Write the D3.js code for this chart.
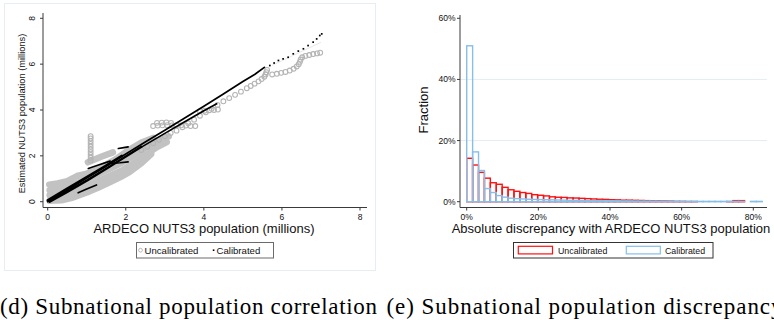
<!DOCTYPE html>
<html>
<head>
<meta charset="utf-8">
<script src="https://cdn.jsdelivr.net/npm/d3@7"></script>
<style>
  html, body { margin: 0; padding: 0; background: #fff; }
  svg { display: block; }
  text { font-family: "Liberation Sans", Arial, sans-serif; fill: #111; }
  .caption { font-family: "Liberation Serif", "DejaVu Serif", serif; fill: #000; }
</style>
</head>
<body>
<svg id="fig" width="774" height="320"></svg>
<script>
// ---------- (d) correlation scatter: values in millions ----------
const corrTicks = [0, 2, 4, 6, 8];

// dense runs of uncalibrated estimates (region trajectories over the years)
const uncalibratedTracks = [
  [[0.05,0.04],[0.35,0.06],[0.65,0.18],[1.0,0.4],[1.3,0.62],[1.6,0.86],[1.85,1.06],[2.1,1.3],[2.4,1.68],[2.65,2.08]],
  [[0.05,0.28],[0.35,0.3],[0.7,0.48],[1.0,0.68],[1.3,0.9],[1.6,1.13],[1.9,1.36],[2.2,1.68],[2.5,2.03],[2.8,2.38],[3.05,2.6]],
  [[0.05,0.5],[0.35,0.58],[0.7,0.78],[1.0,0.98],[1.3,1.2],[1.6,1.45],[1.9,1.7],[2.2,2.0],[2.5,2.35],[2.8,2.65],[3.1,2.85]],
  [[0.04,0.74],[0.25,0.8],[0.5,0.9],[0.75,1.12],[0.95,1.2],[1.2,1.36],[1.5,1.62],[1.8,1.92],[2.1,2.28],[2.4,2.58],[2.7,2.78]],
  [[1.03,1.72],[1.35,1.95],[1.67,2.15]]
];
// individual uncalibrated estimates
const uncalibratedPoints = [
  [1.1,1.8],[1.1,1.92],[1.1,2.04],[1.1,2.16],[1.1,2.28],[1.1,2.4],[1.1,2.52],[1.1,2.64],[1.1,2.76],[1.1,2.86],
  [2.7,3.3],[2.82,3.32],[2.94,3.33],[3.06,3.34],[3.18,3.33],[3.3,3.34],[3.42,3.33],[3.54,3.32],[3.66,3.3],[3.78,3.3],
  [2.8,3.44],[2.92,3.45],[3.04,3.46],[3.16,3.44],
  [3.9,3.95],[4.02,3.97],[4.14,3.99],[4.26,4.0],[4.36,4.02],
  [2.4,2.25],[2.55,2.4],[2.7,2.55],[2.85,2.7],[3.0,2.85],[3.15,3.0],[3.3,3.1],[3.45,3.25],[3.6,3.42],[3.75,3.58],
  [3.9,3.75],[4.05,3.9],[4.2,4.05],[4.35,4.22],[4.5,4.38],[4.65,4.52],[4.8,4.66],[4.95,4.8],[5.1,4.95],[5.2,5.05],
  [5.3,5.15],[5.4,5.25],[5.48,5.35],[5.55,5.45],[5.58,5.55],[5.6,5.65],[5.62,5.75],
  [5.75,5.55],[5.87,5.58],[5.98,5.62],[6.09,5.66],[6.2,5.72],[6.3,5.8],[6.38,5.9],[6.43,6.0],[6.46,6.1],[6.48,6.2],
  [6.52,6.3],[6.6,6.36],[6.7,6.4],[6.8,6.44],[6.9,6.47],[6.98,6.5]
];
const faintTrack = [[5.75,5.95],[7.0,6.95]];

// dense runs of calibrated estimates; the first three hug the diagonal
const calibratedTracks = [
  [[0,0],[0.5,0.5],[1.0,1.03],[1.5,1.55],[2.0,2.08],[2.5,2.6],[3.0,3.12],[3.5,3.64],[4.0,4.16],[4.5,4.7],[5.0,5.24],[5.3,5.55],[5.55,5.86]],
  [[0.05,0.0],[0.5,0.43],[1.0,0.92],[1.5,1.44],[2.0,1.97],[2.4,2.4]],
  [[0,0.06],[0.5,0.57],[1.0,1.08],[1.4,1.48],[1.9,2.0]],
  [[2.4,2.38],[3.0,2.98],[3.5,3.48],[4.0,3.97],[4.33,4.27]],
  [[1.04,1.45],[1.3,1.6],[1.6,1.77]],
  [[1.64,1.67],[1.85,1.7],[2.06,1.74]],
  [[0.78,0.39],[1.0,0.55],[1.25,0.73]],
  [[1.81,2.32],[1.95,2.36],[2.06,2.39]]
];
const calibratedPoints = [
  [5.69,5.94],[5.8,6.05],[5.91,6.16],[6.03,6.23],[6.16,6.3],[6.29,6.45],[6.42,6.57],
  [6.55,6.67],[6.67,6.81],[6.8,6.96],[6.89,7.1],[6.97,7.25],[7.02,7.32]
];

// ---------- (e) discrepancy histogram ----------
const binWidth = 0.0165;
const uncalibratedShare = [
  14.2,12.0,9.6,7.7,6.2,5.7,4.7,3.9,3.4,3.0,
  2.7,2.3,2.1,1.9,1.6,1.45,1.4,1.25,1.2,1.1,
  1.0,0.9,0.8,0.75,0.65,0.6,0.5,0.5,0.45,0.4,
  0.35,0.3,0.3,0.25,0.2,0.1,0.1,0.05,0.05,0,
  0,0,0,0,0.05,0.35,0.35,0,0,0
];
const calibratedShare = [
  51.0,16.3,10.2,4.3,3.0,2.0,1.5,1.15,1.0,0.9,
  0.8,0.75,0.7,0.65,0.6,0.55,0.5,0.45,0.45,0.4,
  0.4,0.35,0.35,0.3,0.3,0.28,0.25,0.25,0.22,0.2,
  0.2,0.18,0.18,0.15,0.15,0.15,0.12,0.12,0.12,0.1,
  0.1,0.1,0.1,0.1,0.1,0.1,0.1,0,0.1,0.1
];
const shareTicks = [0, 0.2, 0.4, 0.6];
const discTicks = [0, 0.2, 0.4, 0.6, 0.8];

const seriesNames = ["Uncalibrated", "Calibrated"];
const captions = ["(d) Subnational population correlation", "(e) Subnational population discrepancy"];

const svg = d3.select("#fig");
const axisColor = "#3a3a3a";
const pct = d3.format(".0%");

// ======================= panel (d) =======================
svg.append("rect").attr("x", 4.5).attr("y", 3.5).attr("width", 371).attr("height", 267)
  .attr("fill", "none").attr("stroke", "#e6eef2").attr("stroke-width", 1);

const xs = d3.scaleLinear().domain([0, 8]).range([47.7, 360]);
const ys = d3.scaleLinear().domain([0, 8]).range([201.7, 18.3]);
const L = svg.append("g");

const line = d3.line().x(d => xs(d[0])).y(d => ys(d[1]));

L.append("path").datum(faintTrack).attr("d", line)
  .attr("fill", "none").attr("stroke", "#e2e2e2").attr("stroke-width", 0.8);

L.selectAll("path.ut").data(uncalibratedTracks).join("path").attr("class", "ut")
  .attr("d", line).attr("fill", "none").attr("stroke", "#c2c2c2")
  .attr("stroke-width", 6.5).attr("stroke-linecap", "round").attr("stroke-linejoin", "round");

L.selectAll("circle.up").data(uncalibratedPoints).join("circle").attr("class", "up")
  .attr("cx", d => xs(d[0])).attr("cy", d => ys(d[1])).attr("r", 2.4)
  .attr("fill", "none").attr("stroke", "#b4b4b4").attr("stroke-width", 1.1);

L.selectAll("path.ct").data(calibratedTracks).join("path").attr("class", "ct")
  .attr("d", line).attr("fill", "none").attr("stroke", "#000")
  .attr("stroke-width", (d, i) => (i === 1 || i === 2) ? 2.4 : 1.7)
  .attr("stroke-linecap", "round").attr("stroke-linejoin", "round");

L.selectAll("rect.cp").data(calibratedPoints).join("rect").attr("class", "cp")
  .attr("x", d => xs(d[0]) - 0.85).attr("y", d => ys(d[1]) - 0.85)
  .attr("width", 1.7).attr("height", 1.7).attr("fill", "#000");

// axes
L.append("line").attr("x1", 43).attr("x2", 43).attr("y1", 13).attr("y2", 207.5)
  .attr("stroke", axisColor).attr("stroke-width", 1);
L.append("line").attr("x1", 43).attr("x2", 367).attr("y1", 207.5).attr("y2", 207.5)
  .attr("stroke", axisColor).attr("stroke-width", 1);

L.selectAll("line.yt").data(corrTicks).join("line").attr("class", "yt")
  .attr("x1", 40).attr("x2", 43).attr("y1", d => ys(d)).attr("y2", d => ys(d))
  .attr("stroke", axisColor);
L.selectAll("text.yl").data(corrTicks).join("text").attr("class", "yl")
  .attr("transform", d => `translate(35,${ys(d)}) rotate(-90)`)
  .attr("text-anchor", "middle").attr("font-size", 8.5).text(d => d);

L.selectAll("line.xt").data(corrTicks).join("line").attr("class", "xt")
  .attr("x1", d => xs(d)).attr("x2", d => xs(d)).attr("y1", 207.5).attr("y2", 210.5)
  .attr("stroke", axisColor);
L.selectAll("text.xl").data(corrTicks).join("text").attr("class", "xl")
  .attr("x", d => xs(d)).attr("y", 219.5)
  .attr("text-anchor", "middle").attr("font-size", 8.5).text(d => d);

L.append("text").attr("x", 204).attr("y", 233).attr("text-anchor", "middle")
  .attr("font-size", 13).text("ARDECO NUTS3 population (millions)");
L.append("text").attr("transform", "translate(24.5,113.5) rotate(-90)")
  .attr("text-anchor", "middle").attr("font-size", 9.3)
  .text("Estimated NUTS3 population (millions)");

// legend (d)
const lg1 = L.append("g");
lg1.append("rect").attr("x", 136.5).attr("y", 242.5).attr("width", 137).attr("height", 15.5)
  .attr("fill", "#fff").attr("stroke", "#6a6a6a").attr("stroke-width", 1);
lg1.append("circle").attr("cx", 140.5).attr("cy", 250.2).attr("r", 1.9)
  .attr("fill", "none").attr("stroke", "#b2b2b2").attr("stroke-width", 0.9);
lg1.append("text").attr("x", 144.5).attr("y", 253.8).attr("font-size", 9.6).text(seriesNames[0]);
lg1.append("rect").attr("x", 212.8).attr("y", 249.4).attr("width", 1.6).attr("height", 1.6).attr("fill", "#000");
lg1.append("text").attr("x", 216.5).attr("y", 253.8).attr("font-size", 9.6).text(seriesNames[1]);

// ======================= panel (e) =======================
const hx = d3.scaleLinear().domain([0, 0.8]).range([466.7, 753.3]);
const hy = d3.scaleLinear().domain([0, 0.6]).range([201.7, 18.3]);
const R = svg.append("g");

R.selectAll("line.grid").data([0.2, 0.4]).join("line").attr("class", "grid")
  .attr("x1", 460).attr("x2", 767).attr("y1", d => hy(d)).attr("y2", d => hy(d))
  .attr("stroke", "#e3edf2").attr("stroke-width", 1);

function bars(values, color, cls) {
  const data = values.map((v, i) => ({ i, v: v / 100 })).filter(d => d.v > 0);
  R.selectAll("rect." + cls).data(data).join("rect").attr("class", cls)
    .attr("x", d => hx(d.i * binWidth))
    .attr("width", d => hx((d.i + 1) * binWidth) - hx(d.i * binWidth))
    .attr("y", d => hy(d.v))
    .attr("height", d => Math.max(0.01, hy(0) - hy(d.v)))
    .attr("fill", "none").attr("stroke", color).attr("stroke-width", 1.4);
}
bars(uncalibratedShare, "#ff1010", "ub");
bars(calibratedShare, "#86bfe8", "cb");

R.append("line").attr("x1", 460).attr("x2", 460).attr("y1", 15).attr("y2", 207.5)
  .attr("stroke", axisColor).attr("stroke-width", 1);
R.append("line").attr("x1", 460).attr("x2", 767).attr("y1", 207.5).attr("y2", 207.5)
  .attr("stroke", axisColor).attr("stroke-width", 1);

R.selectAll("line.yt").data(shareTicks).join("line").attr("class", "yt")
  .attr("x1", 457).attr("x2", 460).attr("y1", d => hy(d)).attr("y2", d => hy(d))
  .attr("stroke", axisColor);
R.selectAll("text.yl").data(shareTicks).join("text").attr("class", "yl")
  .attr("x", 455.5).attr("y", d => hy(d) + 3)
  .attr("text-anchor", "end").attr("font-size", 8.5).text(d => pct(d));

R.selectAll("line.xt").data(discTicks).join("line").attr("class", "xt")
  .attr("x1", d => hx(d)).attr("x2", d => hx(d)).attr("y1", 207.5).attr("y2", 210.5)
  .attr("stroke", axisColor);
R.selectAll("text.xl").data(discTicks).join("text").attr("class", "xl")
  .attr("x", d => hx(d)).attr("y", 219.5)
  .attr("text-anchor", "middle").attr("font-size", 8.5).text(d => pct(d));

R.append("text").attr("x", 611).attr("y", 233).attr("text-anchor", "middle")
  .attr("font-size", 13).text("Absolute discrepancy with ARDECO NUTS3 population");
R.append("text").attr("transform", "translate(428,110) rotate(-90)")
  .attr("text-anchor", "middle").attr("font-size", 13).text("Fraction");

// legend (e)
const lg2 = R.append("g");
lg2.append("rect").attr("x", 513.5).attr("y", 242.5).attr("width", 199.5).attr("height", 15.5)
  .attr("fill", "#fff").attr("stroke", "#333").attr("stroke-width", 1);
lg2.append("rect").attr("x", 518.3).attr("y", 246.3).attr("width", 34.2).attr("height", 7.6)
  .attr("fill", "none").attr("stroke", "#ff1010").attr("stroke-width", 1.2);
lg2.append("text").attr("x", 558).attr("y", 253.5).attr("font-size", 8.8).text(seriesNames[0]);
lg2.append("rect").attr("x", 626.3).attr("y", 246.3).attr("width", 34).attr("height", 7.6)
  .attr("fill", "none").attr("stroke", "#86bfe8").attr("stroke-width", 1.2);
lg2.append("text").attr("x", 665).attr("y", 253.5).attr("font-size", 8.8).text(seriesNames[1]);

// ======================= captions =======================
svg.append("text").attr("class", "caption").attr("x", 0).attr("y", 314)
  .attr("font-size", 23).attr("textLength", 377).attr("lengthAdjust", "spacing")
  .text(captions[0]);
svg.append("text").attr("class", "caption").attr("x", 386.5).attr("y", 314)
  .attr("font-size", 23).attr("textLength", 396).attr("lengthAdjust", "spacing")
  .text(captions[1]);
</script>
</body>
</html>
